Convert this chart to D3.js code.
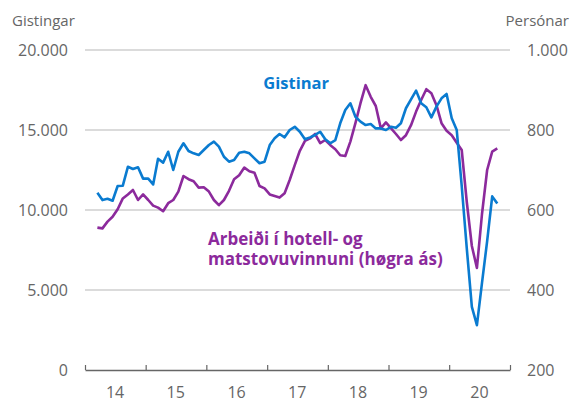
<!DOCTYPE html>
<html>
<head>
<meta charset="utf-8">
<script src="https://cdn.jsdelivr.net/npm/d3@7"></script>
<style>
  body { margin: 0; background: #fff; }
  text { font-family: 'Open Sans', sans-serif; }
  .tick-label { fill: #666; font-size: 16px; }
  .axis-title { fill: #666; font-size: 15px; }
</style>
</head>
<body>
<div id="chart"></div>
<script>
// monthly series, March 2014 - October 2020
var firstMonth = new Date(2014, 2, 1);
var lastMonth = new Date(2020, 9, 1);

// Gistingar (left axis)
var gistingar = [
  11080, 10620, 10700, 10580, 11500, 11520, 12700, 12560, 12670, 11960,
  11960, 11600, 13200, 12960, 13640, 12500, 13640, 14170, 13690, 13540,
  13440, 13750, 14060, 14270, 13960, 13330, 13020, 13120, 13580, 13640,
  13540, 13230, 12920, 13020, 14060, 14480, 14750, 14540, 15000, 15200,
  14890, 14420, 14540, 14690, 14890, 14420, 14170, 14370, 15420, 16250,
  16670, 15830, 15520, 15310, 15370, 15100, 15100, 15000, 15200, 15140,
  15420, 16360, 16920, 17460, 16670, 16420, 15790, 16460, 16980, 17250,
  15730, 15000, 11500, 7600, 3950, 2800, 5450, 8050, 10850, 10400
];

// Persónar i arbeiði (right axis)
var personar = [
  556, 554, 571, 583, 602, 629, 639, 650, 625, 639,
  625, 611, 606, 597, 617, 625, 646, 685, 677, 672,
  656, 657, 646, 625, 612, 625, 648, 677, 687, 706,
  697, 693, 660, 654, 639, 635, 631, 642, 675, 712,
  748, 773, 779, 790, 767, 775, 762, 752, 737, 735,
  771, 817, 867, 912, 883, 860, 804, 819, 804, 790,
  775, 787, 812, 846, 875, 902, 892, 862, 817, 798,
  787, 768, 750, 620, 510, 455, 590, 700, 746, 754
];

var years = [2014, 2015, 2016, 2017, 2018, 2019, 2020];
var leftTicks = [0, 5000, 10000, 15000, 20000];
var rightTicks = [200, 400, 600, 800, 1000];

var blue = '#0a7bd0';
var purple = '#8c2a9c';

var margin = {top: 50, right: 61, bottom: 33, left: 85};
var width = 571 - margin.left - margin.right;
var height = 403 - margin.top - margin.bottom;

var months = d3.timeMonth.range(firstMonth, d3.timeMonth.offset(lastMonth, 1));

var x = d3.scaleTime()
  .domain([new Date(2014, 0, 1), new Date(2021, 0, 1)])
  .range([0, width]);
var yLeft = d3.scaleLinear().domain([0, 20000]).range([height, 0]);
var yRight = d3.scaleLinear().domain([200, 1000]).range([height, 0]);

function midMonth(m) {
  return (x(m) + x(d3.timeMonth.offset(m, 1))) / 2;
}

var fmt = d3.formatLocale({decimal: ',', thousands: '.', grouping: [3], currency: ['', '']}).format(',');

var svg = d3.select('#chart').append('svg')
  .attr('width', 571)
  .attr('height', 403)
  .append('g')
  .attr('transform', 'translate(' + margin.left + ',' + margin.top + ')');

// gridlines
svg.append('g')
  .selectAll('line')
  .data(leftTicks.filter(function(d) { return d > 0; }))
  .enter().append('line')
  .attr('x1', 0)
  .attr('x2', width)
  .attr('y1', function(d) { return yLeft(d); })
  .attr('y2', function(d) { return yLeft(d); })
  .attr('stroke', '#cfcfcf')
  .attr('stroke-width', 1.5);

// left labels
svg.append('g')
  .selectAll('text')
  .data(leftTicks)
  .enter().append('text')
  .attr('class', 'tick-label')
  .attr('x', -17)
  .attr('y', function(d) { return yLeft(d); })
  .attr('dy', '0.35em')
  .attr('text-anchor', 'end')
  .text(function(d) { return fmt(d); });

// right labels
svg.append('g')
  .selectAll('text')
  .data(rightTicks)
  .enter().append('text')
  .attr('class', 'tick-label')
  .attr('x', width + 17)
  .attr('y', function(d) { return yRight(d); })
  .attr('dy', '0.35em')
  .attr('text-anchor', 'start')
  .text(function(d) { return fmt(d); });

// x axis
var xAxis = d3.axisBottom(x)
  .tickValues(years.map(function(y) { return new Date(y, 0, 1); }).concat([new Date(2021, 0, 1)]))
  .tickSize(-5)
  .tickSizeOuter(0)
  .tickFormat('');

var gx = svg.append('g')
  .attr('transform', 'translate(0,' + height + ')')
  .call(xAxis);
gx.select('.domain').attr('stroke', '#666').attr('stroke-width', 1.5);
gx.selectAll('.tick line').attr('stroke', '#666').attr('stroke-width', 1.2);

svg.append('g')
  .selectAll('text')
  .data(years)
  .enter().append('text')
  .attr('class', 'tick-label')
  .attr('x', function(d) { return x(new Date(d, 6, 1)); })
  .attr('y', height + 28)
  .attr('text-anchor', 'middle')
  .text(function(d) { return String(d).slice(2); });

// axis titles
svg.append('text')
  .attr('class', 'axis-title')
  .attr('x', 12 - margin.left)
  .attr('y', 26 - margin.top)
  .text('Gistingar');

svg.append('text')
  .attr('class', 'axis-title')
  .attr('x', 569 - margin.left)
  .attr('y', 26 - margin.top)
  .attr('text-anchor', 'end')
  .text('Persónar');

// lines
var lineLeft = d3.line()
  .x(function(d, i) { return midMonth(months[i]); })
  .y(function(d) { return yLeft(d); });

var lineRight = d3.line()
  .x(function(d, i) { return midMonth(months[i]); })
  .y(function(d) { return yRight(d); });

svg.append('path')
  .datum(personar)
  .attr('fill', 'none')
  .attr('stroke', purple)
  .attr('stroke-width', 2.6)
  .attr('stroke-linejoin', 'round')
  .attr('d', lineRight);

svg.append('path')
  .datum(gistingar)
  .attr('fill', 'none')
  .attr('stroke', blue)
  .attr('stroke-width', 2.6)
  .attr('stroke-linejoin', 'round')
  .attr('d', lineLeft);

// labels
svg.append('text')
  .attr('x', 329 - margin.left)
  .attr('y', 89 - margin.top)
  .attr('text-anchor', 'end')
  .attr('fill', blue)
  .style('font-size', '16.5px')
  .style('font-weight', 'bold')
  .text('Gistinar');

var lab = svg.append('text')
  .attr('fill', purple)
  .style('font-size', '17px')
  .style('font-weight', 'bold');
lab.append('tspan')
  .attr('x', 208 - margin.left)
  .attr('y', 245 - margin.top)
  .text('Arbeiði í hotell- og');
lab.append('tspan')
  .attr('x', 208 - margin.left)
  .attr('y', 265 - margin.top)
  .text('matstovuvinnuni (høgra ás)');
</script>
</body>
</html>
